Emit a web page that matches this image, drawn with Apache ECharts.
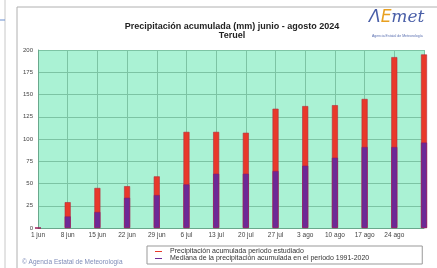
<!DOCTYPE html>
<html>
<head>
<meta charset="utf-8">
<script src="https://cdn.jsdelivr.net/npm/echarts@6/dist/echarts.min.js"></script>
<style>
  html, body { margin: 0; padding: 0; background: #fff; }
  #box { width: 437px; height: 268px; }
</style>
</head>
<body>
<div id="box"></div>
<script>
// fechas (semanas) del eje x
var categories = ['1 jun', '8 jun', '15 jun', '22 jun', '29 jun', '6 jul', '13 jul', '20 jul', '27 jul', '3 ago', '10 ago', '17 ago', '24 ago', '']
// precipitacion acumulada periodo estudiado (mm)
var observed = [0, 29, 45, 47, 58, 108, 108, 107, 134, 137, 138, 145, 192, 195]
// mediana 1991-2020 (mm)
var median = [0, 13, 18, 34, 37, 49, 61, 61, 64, 70, 79, 91, 91, 96]
var yTicks = [0, 25, 50, 75, 100, 125, 150, 175, 200]

var labelFont = 'Liberation Sans'

var myChart = echarts.init(document.getElementById('box'))
myChart.setOption({
  animation: false,
  title: {
    text: 'Precipitación acumulada (mm) junio - agosto 2024\nTeruel',
    left: 227,
    top: 17,
    textAlign: 'center',
    textStyle: { fontFamily: labelFont, fontSize: 9, fontWeight: 'bold', color: '#222', lineHeight: 9 }
  },
  legend: {
    orient: 'vertical',
    left: 147,
    top: 246,
    padding: [2, 53, 2, 8],
    itemGap: 0,
    itemWidth: 7,
    itemHeight: 1,
    icon: 'rect',
    itemStyle: { borderWidth: 0 },
    backgroundColor: '#fff',
    borderColor: '#999',
    borderWidth: 1,
    textStyle: { fontFamily: labelFont, fontSize: 7, color: '#333', padding: [0, 0, 0, 3] },
    data: ['Precipitación acumulada periodo estudiado', 'Mediana de la precipitación acumulada en el periodo 1991-2020']
  },
  grid: { left: 38, right: 13, top: 50, bottom: 40 },
  xAxis: {
    type: 'category',
    boundaryGap: false,
    data: categories,
    axisLine: { lineStyle: { color: '#6aa88c' } },
    axisTick: { show: false },
    axisLabel: { interval: 0, fontFamily: labelFont, fontSize: 6.5, color: '#444', margin: 4 },
    splitLine: { show: true, interval: 0, lineStyle: { color: '#7cc4a4', width: 1 } }
  },
  yAxis: {
    type: 'value',
    min: 0,
    max: 200,
    interval: 25,
    axisLine: { show: true, lineStyle: { color: '#6aa88c' } },
    axisTick: { show: false },
    axisLabel: {
      fontFamily: labelFont, fontSize: 6, color: '#444', margin: 5,
      formatter: function (v) { return yTicks.indexOf(v) >= 0 ? String(v) : '' }
    },
    splitLine: { show: true, lineStyle: { color: '#7cc4a4', width: 1 } },
    splitArea: { show: true, areaStyle: { color: ['#aaf2d4', '#aaf2d4'] } }
  },
  series: [
    {
      name: 'Precipitación acumulada periodo estudiado',
      type: 'bar',
      data: observed,
      barWidth: 6,
      barGap: '-100%',
      clip: false,
      itemStyle: { color: '#e8392a', borderColor: '#b52a3a', borderWidth: 0.6 }
    },
    {
      name: 'Mediana de la precipitación acumulada en el periodo 1991-2020',
      type: 'bar',
      data: median,
      barWidth: 6,
      clip: false,
      itemStyle: { color: '#6c2a96', borderColor: '#8e1a6a', borderWidth: 0.6 }
    }
  ],
  graphic: [
    // marco del panel
    { type: 'rect', shape: { x: 17, y: 7, width: 430, height: 270 }, style: { fill: 'none', stroke: '#b0b0b0', lineWidth: 1 }, z: -1 },
    { type: 'line', shape: { x1: 5, y1: 0, x2: 5, y2: 268 }, style: { stroke: '#c8c8c8', lineWidth: 1 } },
    { type: 'line', shape: { x1: 0, y1: 20, x2: 5, y2: 20 }, style: { stroke: '#6b8fd0', lineWidth: 1 } },
    // logo
    {
      type: 'text', left: 369, top: 9,
      style: {
        text: '{a|Λ}{e|E}{m|met}',
        rich: {
          a: { fontFamily: 'DejaVu Sans', fontStyle: 'italic', fontSize: 17, fill: '#4a5fa8' },
          e: { fontFamily: 'DejaVu Sans', fontStyle: 'italic', fontSize: 17, fill: '#e8a020' },
          m: { fontFamily: 'DejaVu Serif', fontStyle: 'italic', fontSize: 17, fill: '#4a5fa8' }
        }
      }
    },
    { type: 'text', left: 372, top: 34, style: { text: 'Agencia Estatal de Meteorología', fontFamily: labelFont, fontSize: 3.5, fill: '#5a6fb0' } },
    { type: 'text', left: 22, top: 259, style: { text: '© Agencia Estatal de Meteorología', fontFamily: labelFont, fontSize: 6.5, fill: '#7e8cb8' } }
  ]
})
</script>
</body>
</html>
